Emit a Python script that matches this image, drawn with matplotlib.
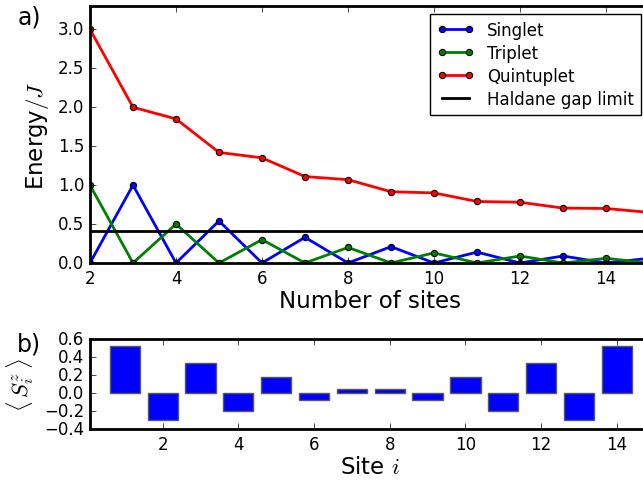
import matplotlib
matplotlib.use("Agg")
import matplotlib.pyplot as plt

plt.style.use('classic')

# energies vs number of sites
sites = [2, 3, 4, 5, 6, 7, 8, 9, 10, 11, 12, 13, 14, 15]
singlet = [0.0, 1.0, 0.0, 0.54, 0.0, 0.33, 0.0, 0.21, 0.0, 0.14, 0.0, 0.09, 0.0, 0.06]
triplet = [1.0, 0.0, 0.5, 0.0, 0.3, 0.0, 0.2, 0.0, 0.13, 0.0, 0.09, 0.0, 0.06, 0.0]
quintuplet = [3.0, 2.0, 1.85, 1.42, 1.35, 1.11, 1.07, 0.915, 0.90, 0.79, 0.78, 0.705, 0.70, 0.65]
haldane = 0.41

# local magnetisation per site
site_i = list(range(1, 15))
sz = [0.52, -0.30, 0.33, -0.20, 0.18, -0.08, 0.04, 0.04, -0.08, 0.18, -0.20, 0.33, -0.30, 0.52]

W, H = 643, 481
fig = plt.figure(figsize=(W / 100., H / 100.), dpi=100, facecolor='white')

ax1 = fig.add_axes([90. / W, 1 - 264. / H, 559. / W, 257. / H])
ax1.plot(sites, singlet, 'b-o', lw=2, ms=4.5, mew=0.8, label='Singlet')
ax1.plot(sites, triplet, 'g-o', lw=2, ms=4.5, mew=0.8, label='Triplet')
ax1.plot(sites, quintuplet, 'r-o', lw=2, ms=4.5, mew=0.8, label='Quintuplet')
ax1.axhline(haldane, color='k', lw=2, label='Haldane gap limit')
ax1.set_xlim(2, 15)
ax1.set_ylim(0, 3.3)
ax1.set_xticks([2, 4, 6, 8, 10, 12, 14])
ax1.set_yticks([0.0, 0.5, 1.0, 1.5, 2.0, 2.5, 3.0])
ax1.set_xlabel('Number of sites', fontsize=16.5, labelpad=2)
ax1.set_ylabel('Energy$/J$', fontsize=16.5)
leg = ax1.legend(loc='upper right', fontsize=12, borderaxespad=0.5,
                 labelspacing=0.3, handlelength=2.2)
leg.get_frame().set_linewidth(1)
ax1.text(-0.13, 0.93, 'a)', transform=ax1.transAxes, fontsize=17)

ax2 = fig.add_axes([90. / W, 1 - 430. / H, 559. / W, 90. / H])
ax2.bar(site_i, sz, width=0.8, align='center', color='b', edgecolor='0.35')
ax2.set_xlim(0.08, 14.85)
ax2.set_ylim(-0.4, 0.6)
ax2.set_xticks([2, 4, 6, 8, 10, 12, 14])
ax2.set_yticks([-0.4, -0.2, 0.0, 0.2, 0.4, 0.6])
ax2.set_xlabel('Site $i$', fontsize=16.5, labelpad=2)
ax2.set_ylabel(r'$\langle\,S_i^z\,\rangle$', fontsize=16.5, labelpad=6)
ax2.text(-0.13, 0.87, 'b)', transform=ax2.transAxes, fontsize=17)

for ax in (ax1, ax2):
    for sp in ax.spines.values():
        sp.set_linewidth(2)
    ax.tick_params(labelsize=12)

fig.savefig('out.png', dpi=100, facecolor='white')
